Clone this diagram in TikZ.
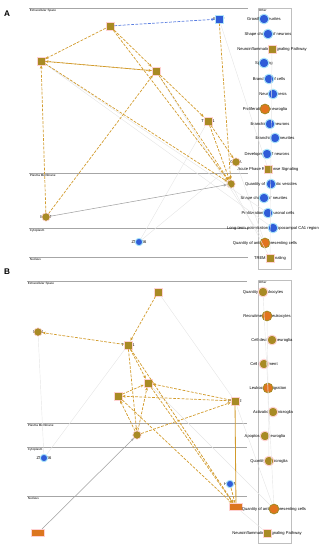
\documentclass[tikz,border=0pt]{standalone}
\usepackage{fontspec}
\setmainfont{Liberation Sans}
\usepackage{tikz}
\usetikzlibrary{arrows.meta, positioning}
\definecolor{ipagold}{HTML}{A88A24}
\definecolor{ipaorange}{HTML}{E2741E}
\definecolor{ipablue}{HTML}{2F5CD8}
\definecolor{edgegold}{HTML}{D29B2C}
\tikzset{
	gene/.style={rectangle, draw=pink!70, line width=0.5pt, fill=ipagold, minimum size=0.24cm, inner sep=0pt},
	genec/.style={gene, circle, minimum size=0.25cm},
	geneb/.style={gene, draw=cyan!30, fill=ipablue},
	geneo/.style={gene, fill=ipaorange!90!ipagold, minimum width=0.4cm, minimum height=0.22cm},
	fnblue/.style={circle, draw=cyan!35, line width=0.8pt, fill=ipablue, minimum size=0.29cm, inner sep=0pt},
	fnsmall/.style={fnblue, minimum size=0.22cm},
	fnup/.style={circle, draw=ipagold, line width=0.8pt, fill=ipaorange, minimum size=0.29cm, inner sep=0pt},
	fngold/.style={fnup, draw=pink!70, fill=ipagold},
	pathway/.style={rectangle, draw=pink!70, line width=0.5pt, fill=ipagold, minimum size=0.24cm, inner sep=0pt},
	lbl/.style={font=\fontsize{3.5}{4}\selectfont, inner sep=0pt},
	lyr/.style={font=\fontsize{2.6}{3}\selectfont, anchor=north west, inner sep=0.6pt},
	panel/.style={font=\bfseries\fontsize{7}{8}\selectfont},
	layer/.style={draw=gray!70, line width=0.5pt},
	otherbox/.style={draw=gray!50, line width=0.5pt},
	arr/.style={-{Stealth[length=2.8pt, width=2.4pt]}, draw=edgegold, line width=0.6pt, dash pattern=on 2.4pt off 1.2pt},
	darr/.style={arr, draw=ipablue!80},
	sline/.style={edgegold, line width=0.7pt},
	garr/.style={-{Stealth[length=2.6pt, width=2.2pt]}, draw=gray!75, line width=0.45pt},
	faint/.style={draw=gray!20, line width=0.35pt},
}
\begin{document}
\begin{tikzpicture}[x=0.03cm, y=-0.03cm]
	\useasboundingbox (0,0) rectangle (324,550);

	\node[panel] (pa) at (7,14) {A};
	\draw[layer] (29,8) -- (248,8);
	\draw[layer] (29,173) -- (248,173);
	\draw[layer] (29,228) -- (248,228);
	\draw[layer] (29,257) -- (248,257);
	\draw[otherbox] (258,8) rectangle (291,269);
	\node[lyr] (a-ext) at (29,8) {Extracellular Space};
	\node[lyr] (a-pm) at (29,173) {Plasma Membrane};
	\node[lyr] (a-cyt) at (29,228) {Cytoplasm};
	\node[lyr] (a-nuc) at (29,257) {Nucleus};
	\node[lyr] (a-oth) at (258,8) {Other};

	\foreach \nm/\x/\y/\st/\txt in {
		il1b/110/26/gene/IL1B, bdnf/219/19/geneb/BDNF, tnf/41/61/gene/TNF,
		il6/156/71/gene/IL6, tgfb1/208/121/gene/TGFB1, c1qa/236/162/genec/C1QA,
		app/231/184/genec/APP, mapt/46/217/genec/MAPT, znf/139/242/fnsmall/ZNF366,
		grow/264/19/fnblue/Growth of neurites,
		shapen/268/34/fnblue/Shape change of neurons,
		neuroa/272/49/pathway/Neuroinflammation Signaling Pathway,
		sprout/264/63/fnblue/Sprouting,
		brcell/269/79/fnblue/Branching of cells,
		neurit/273/94/fnblue/Neuritogenesis,
		proglia/265/109/fnup/Proliferation of neuroglia,
		brneuron/270/124/fnblue/Branching of neurons,
		brneurite/275/138/fnblue/Branching of neurites,
		devneuron/267/154/fnblue/Development of neurons,
		acute/268/169/pathway/Acute Phase Response Signaling,
		synves/271/184/fnblue/Quantity of synaptic vesicles,
		shapenr/264/198/fnblue/Shape change of neurites,
		prolneur/268/213/fnblue/Proliferation of neuronal cells,
		ltp/273/228/fnblue/Long-term potentiation of hippocampal CA1 region,
		apca/265/243/fnup/Quantity of antigen presenting cells,
		trem/270/258/pathway/TREM1 Signaling}{
		\node[lbl] (\nm-t) at (\x,\y) {\txt};
		\node[\st] (\nm) at (\x,\y) {};
	}

	\draw[faint] (tnf) -- (ltp);
	\draw[faint] (tnf) -- (prolneur);
	\draw[faint] (il6) -- (apca);
	\draw[faint] (bdnf) -- (acute);
	\draw[faint] (znf) -- (tgfb1);
	\draw[faint] (znf) -- (c1qa);
	\draw[faint] (app) -- (trem);
	\draw[faint] (c1qa) -- (apca);
	\draw[faint] (neuroa) -- (trem);

	\draw[darr] (il1b) -- (bdnf);
	\draw[arr] (il1b) -- (tnf);
	\draw[arr] (tnf) -- (il6);
	\draw[arr] (il6) -- (tnf);
	\draw[arr] (mapt) -- (tnf);
	\draw[arr] (mapt) -- (il6);
	\draw[arr] (tnf) -- (app);
	\draw[arr] (il1b) -- (il6);
	\draw[arr] (il1b) -- (app);
	\draw[arr] (il6) -- (tgfb1);
	\draw[arr] (il6) -- (app);
	\draw[arr] (tgfb1) -- (c1qa);
	\draw[arr] (tgfb1) -- (app);
	\draw[arr] (bdnf) -- (app);
	\draw[garr] (mapt) -- (app);

	\node[panel] (pb) at (7,272) {B};
	\draw[layer] (27,281) -- (247,281);
	\draw[layer] (27,423) -- (247,423);
	\draw[layer] (27,447) -- (247,447);
	\draw[layer] (27,496) -- (247,496);
	\draw[otherbox] (258,280) rectangle (291,543);
	\node[lyr] (b-ext) at (27,281) {Extracellular Space};
	\node[lyr] (b-pm) at (27,423) {Plasma Membrane};
	\node[lyr] (b-cyt) at (27,447) {Cytoplasm};
	\node[lyr] (b-nuc) at (27,496) {Nucleus};
	\node[lyr] (b-oth) at (258,280) {Other};

	\foreach \nm/\x/\y/\st/\txt in {
		cd4/158/292/gene/CD4, cd14/38/332/genec/CD14, tgfb1b/128/345/gene/TGFB1,
		il6b/148/383/gene/IL6, il1bb/118/396/gene/IL1B, ptgs2/235/401/gene/PTGS2,
		appb/137/435/genec/APP, znfb/44/458/fnsmall/ZNF366, hif/230/484/fnsmall/HIF1A,
		stat3/236/507/geneo/STAT3, lrrk/38/533/geneo/LRRK2,
		qleuk/263/292/fngold/Quantity of leukocytes,
		recleuk/267/316/fnup/Recruitment of leukocytes,
		cdeath/272/340/fngold/Cell death of neuroglia,
		cmove/264/364/fngold/Cell movement,
		lmig/268/388/fnup/Leukocyte migration,
		actmg/273/412/fngold/Activation of microglia,
		apog/265/436/fngold/Apoptosis of neuroglia,
		qmg/269/461/fngold/Quantity of microglia,
		apcb/274/509/fnup/Quantity of antigen presenting cells,
		neurob/267/533/pathway/Neuroinflammation Signaling Pathway}{
		\node[lbl] (\nm-t) at (\x,\y) {\txt};
		\node[\st] (\nm) at (\x,\y) {};
	}

	\draw[faint] (cd14) -- (znfb);
	\draw[faint] (tgfb1b) -- (znfb);
	\draw[faint] (cd4) -- (ptgs2);
	\draw[faint] (ptgs2) -- (apcb);
	\draw[faint] (il6b) -- (apcb);
	\draw[faint] (stat3) -- (neurob);
	\draw[faint] (qleuk) -- (apcb);
	\draw[faint] (recleuk) -- (qmg);

	\draw[arr] (cd4) -- (tgfb1b);
	\draw[arr] (tgfb1b) -- (cd14);
	\draw[arr] (tgfb1b) -- (il6b);
	\draw[arr] (tgfb1b) -- (appb);
	\draw[arr] (tgfb1b) -- (stat3);
	\draw[arr] (il1bb) -- (il6b);
	\draw[arr] (appb) -- (il6b);
	\draw[arr] (ptgs2) -- (il6b);
	\draw[arr] (ptgs2) -- (il1bb);
	\draw[arr] (appb) -- (il1bb);
	\draw[arr] (appb) -- (ptgs2);
	\draw[arr] (il1bb) -- (stat3);
	\draw[arr] (il6b) -- (stat3);
	\draw[arr] (hif) -- (stat3);
	\draw[sline] (ptgs2) -- (stat3);
	\draw[garr] (lrrk) -- (appb);
\end{tikzpicture}
\end{document}
